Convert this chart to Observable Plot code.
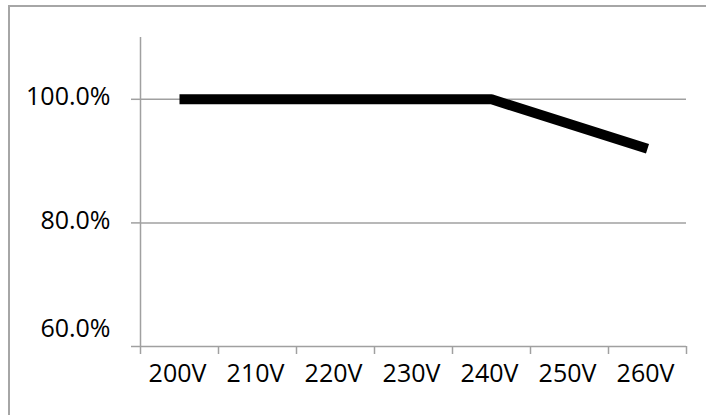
<!DOCTYPE html>
<html>
<head>
<meta charset="utf-8">
<script src="https://cdn.jsdelivr.net/npm/d3@7"></script>
<script src="https://cdn.jsdelivr.net/npm/@observablehq/plot@0.6"></script>
<style>
  html, body { margin: 0; padding: 0; background: #fff; }
  #wrap { position: relative; width: 706px; height: 415px; overflow: hidden; }
  #border { position: absolute; left: 8px; top: 5px; width: 800px; height: 500px;
            border-left: 2px solid #a6a6a6; border-top: 2px solid #a6a6a6; pointer-events: none; }
  svg { font-family: "Open Sans", sans-serif; }
</style>
</head>
<body>
<div id="wrap"><div id="border"></div></div>
<script>
const categories = ["200V", "210V", "220V", "230V", "240V", "250V", "260V"];
const efficiency = [1.0, 1.0, 1.0, 1.0, 1.0, 0.96, 0.92];
const yTicks = [0.6, 0.8, 1.0];

const data = categories.map((c, i) => ({category: c, index: i, value: efficiency[i]}));
const bounds = d3.range(categories.length + 1);
const centers = categories.map((c, i) => i + 0.5);
const gray = "#a0a0a0";
const pct = d3.format(".1%");
const textStyle = {fill: "#000", fontSize: 25, fontWeight: 370, label: null};

const chart = Plot.plot({
  width: 706,
  height: 415,
  marginLeft: 140,
  marginRight: 20,
  marginTop: 37,
  marginBottom: 69,
  style: {fontSize: "25px", fontFamily: "'Open Sans', sans-serif", color: "#000", background: "transparent"},
  x: {type: "linear", domain: [0, categories.length], axis: null},
  y: {domain: [0.6, 1.1], axis: null},
  marks: [
    Plot.ruleY(yTicks, {stroke: gray, strokeWidth: 1.5}),
    Plot.ruleX([0], {stroke: gray, strokeWidth: 1.5}),
    Plot.axisY({ticks: yTicks, tickSize: 9, tickFormat: () => "", stroke: gray, strokeWidth: 1.5,
                strokeOpacity: 1, label: null}),
    Plot.axisY({ticks: yTicks.filter((t) => t > yTicks[0]), tickSize: 0, tickPadding: 30, tickFormat: pct,
                dy: -2, ...textStyle}),
    Plot.axisY({ticks: [yTicks[0]], tickSize: 0, tickPadding: 30, tickFormat: pct, dy: -18, ...textStyle}),
    Plot.axisX({ticks: bounds, tickSize: 8, tickFormat: () => "", stroke: gray, strokeWidth: 1.5,
                strokeOpacity: 1, label: null}),
    Plot.axisX({ticks: centers, tickSize: 0, tickPadding: 18, tickFormat: (d) => categories[Math.floor(d)],
                dx: -2, ...textStyle}),
    Plot.line(data, {x: (d) => d.index + 0.5, y: "value", stroke: "#000", strokeWidth: 10,
                     strokeLinecap: "butt", strokeLinejoin: "miter"})
  ]
});
document.getElementById("wrap").prepend(chart);
</script>
</body>
</html>
